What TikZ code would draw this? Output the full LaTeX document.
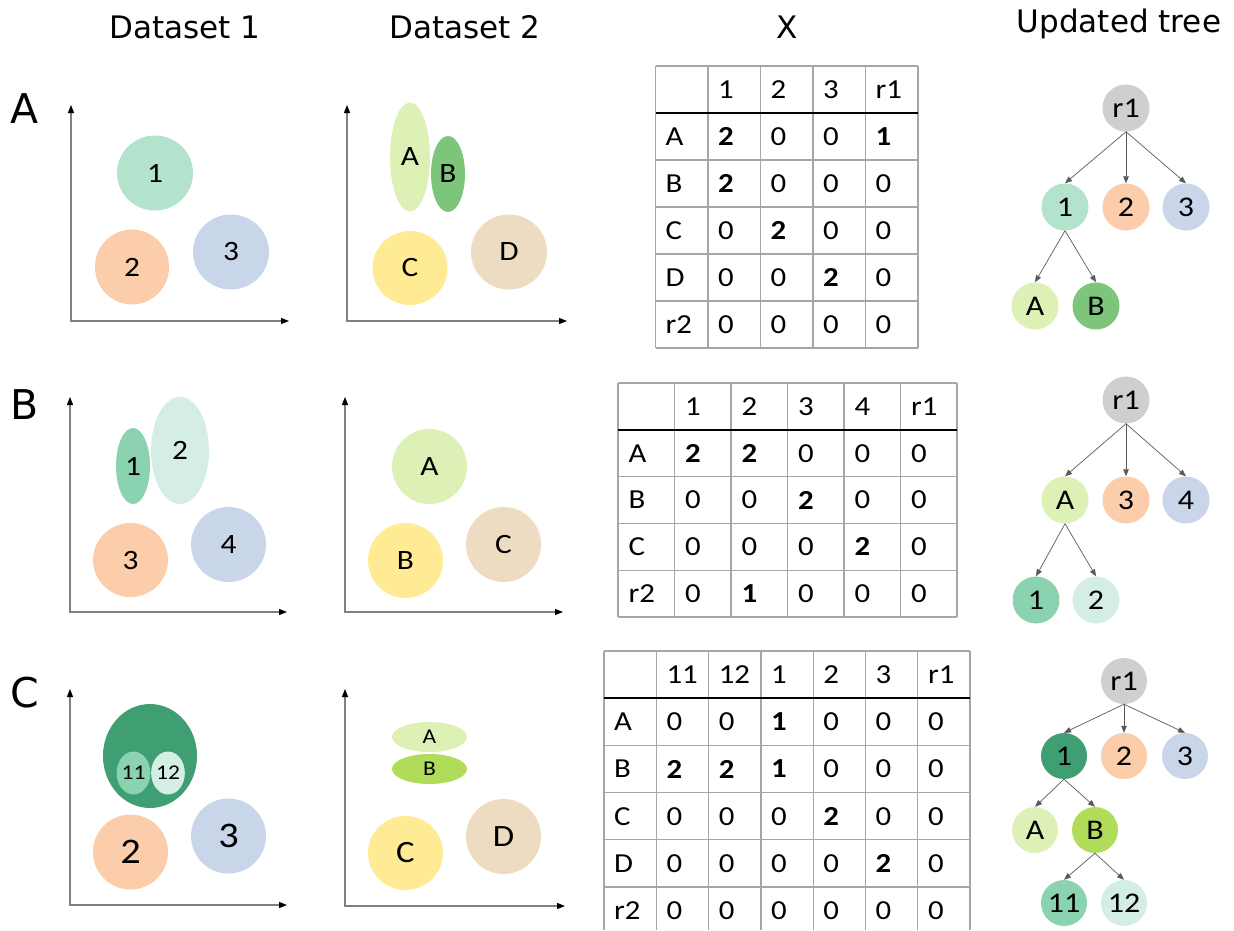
\documentclass[tikz,border=0pt]{standalone}
\usepackage{fontspec}
\setmainfont{Carlito}[FakeStretch=1.12]
\newfontfamily\headfont{DejaVu Sans}
\usetikzlibrary{arrows.meta,shapes.geometric}

\definecolor{mint}{HTML}{B3E3CC}
\definecolor{peach}{HTML}{FBCDAA}
\definecolor{steel}{HTML}{C9D5E8}
\definecolor{lime}{HTML}{DDF0B5}
\definecolor{leafgreen}{HTML}{7DC57A}
\definecolor{butter}{HTML}{FFEB94}
\definecolor{sand}{HTML}{EDDCC2}
\definecolor{stone}{HTML}{D0CECE}
\definecolor{sea}{HTML}{8AD2B0}
\definecolor{foam}{HTML}{D5EEE3}
\definecolor{forest}{HTML}{3F9E72}
\definecolor{grass}{HTML}{B0DC5A}
\definecolor{gridgray}{HTML}{A6A6A6}
\definecolor{axisgray}{HTML}{808080}
\definecolor{arrowgray}{HTML}{595959}

\begin{document}
\begin{tikzpicture}[x=1pt,y=-1pt]
% styles
\tikzset{blob/.style={ellipse,inner sep=0pt,font=\fontsize{28}{30}\selectfont},
         smallblob/.style={blob,font=\fontsize{21}{23}\selectfont},
         treenode/.style={circle,inner sep=0pt,minimum size=47pt,font=\fontsize{28.5}{30}\selectfont},
         axes/.style={draw=axisgray,line width=1.2pt,
           {Triangle[length=8pt,width=6pt,color=black]}-{Triangle[length=8pt,width=6pt,color=black]}},
         treearrow/.style={draw=arrowgray,line width=0.7pt,-{Triangle[length=7pt,width=5.5pt]}},
         cell/.style={anchor=west,inner sep=0pt,font=\fontsize{27.5}{29}\selectfont},
         tabline/.style={draw=gridgray,line width=1.3pt},
         tabrule/.style={draw=black,line width=2pt},
         head/.style={anchor=base,font=\headfont\fontsize{31}{33}\selectfont},
         panel/.style={anchor=base,font=\headfont\fontsize{41}{43}\selectfont}}
\useasboundingbox (0,0) rectangle (1234,930);

%headers
\node[head] (h1) at (185,38) {Dataset 1};
\node[head] (h2) at (465,38) {Dataset 2};
\node[head] (hx) at (787,38) {X};
\node[head] (ht) at (1119,32) {Updated tree};
\node[panel] (pA) at (25,123) {A};
\node[panel] (pB) at (25,419) {B};
\node[panel] (pC) at (25,707) {C};

%axes
\draw[axes] (71,105) -- (71,321) -- (289,321);
\draw[axes] (347,105) -- (347,321) -- (567,321);
\draw[axes] (70,397) -- (70,612) -- (287,612);
\draw[axes] (345,397) -- (345,612) -- (563,612);
\draw[axes] (70,689) -- (70,905) -- (287,905);
\draw[axes] (345,689) -- (345,906) -- (565,906);

%row A, dataset 1
\node[blob,fill=mint,minimum width=76pt,minimum height=75pt] (pa1) at (155,173) {1};
\node[blob,fill=peach,minimum width=74pt,minimum height=75pt] (pa2) at (132,267) {2};
\node[blob,fill=steel,minimum width=76pt,minimum height=75pt] (pa3) at (231,252) {3};
%row A, dataset 2
\node[blob,fill=lime,minimum width=40pt,minimum height=109pt] (qaA) at (410,157) {A};
\node[blob,fill=leafgreen,minimum width=34pt,minimum height=76pt] (qaB) at (448,174) {B};
\node[blob,fill=butter,minimum width=75pt,minimum height=74pt] (qaC) at (410,268) {C};
\node[blob,fill=sand,minimum width=76pt,minimum height=75pt] (qaD) at (509,252) {D};

%row B, dataset 1
\node[blob,fill=sea,minimum width=34pt,minimum height=76pt] (pb1) at (133,466) {1};
\node[blob,fill=foam,minimum width=58pt,minimum height=107pt] (pb2) at (180,450.5) {2};
\node[blob,fill=peach,minimum width=75pt,minimum height=74pt] (pb3) at (130.5,560) {3};
\node[blob,fill=steel,minimum width=75pt,minimum height=75pt] (pb4) at (228.5,544.5) {4};
%row B, dataset 2
\node[blob,fill=lime,minimum width=75pt,minimum height=75pt] (qbA) at (429.5,466.5) {A};
\node[blob,fill=butter,minimum width=75pt,minimum height=75pt] (qbB) at (405.5,560.5) {B};
\node[blob,fill=sand,minimum width=75pt,minimum height=75pt] (qbC) at (503.5,544.5) {C};

%row C, dataset 1
\node[blob,fill=forest,minimum width=94pt,minimum height=104pt] (pc1) at (150,756) {};
\node[smallblob,fill=sea,minimum width=33pt,minimum height=43pt] (pc11) at (133.5,773) {11};
\node[smallblob,fill=foam,minimum width=32pt,minimum height=43pt] (pc12) at (168,773) {12};
\node[blob,fill=peach,minimum width=75pt,minimum height=75pt,font=\fontsize{36}{38}\selectfont] (pc2) at (130.5,852) {2};
\node[blob,fill=steel,minimum width=75pt,minimum height=75pt,font=\fontsize{36}{38}\selectfont] (pc3) at (228.5,836) {3};
%row C, dataset 2
\node[smallblob,fill=lime,minimum width=75pt,minimum height=30pt] (qcA) at (429.5,737) {A};
\node[smallblob,fill=grass,minimum width=75pt,minimum height=30pt] (qcB) at (429.5,769) {B};
\node[blob,fill=butter,minimum width=75pt,minimum height=74pt,font=\fontsize{31}{33}\selectfont] (qcC) at (405.5,853) {C};
\node[blob,fill=sand,minimum width=75pt,minimum height=75pt,font=\fontsize{31}{33}\selectfont] (qcD) at (503.5,836.5) {D};

%table A
\foreach \i in {0,...,5} \draw[tabline] (655.5+\i*52.5,66) -- (655.5+\i*52.5,348);
\foreach \j in {0,...,6} \draw[tabline] (655.5,66+\j*47) -- (918,66+\j*47);
\draw[tabrule] (655.5,113) -- (918,113);
\foreach \row [count=\j from 0] in {{{},1,2,3,r1},
    {A,\textbf{2},0,0,\textbf{1}},
    {B,\textbf{2},0,0,0},
    {C,0,\textbf{2},0,0},
    {D,0,0,\textbf{2},0},
    {r2,0,0,0,0}}
  \foreach \v [count=\i from 0] in \row
    \node[cell] (xa-\j-\i) at (665.5+\i*52.5,89.5+\j*47) {\v};

%table B
\foreach \i in {0,...,6} \draw[tabline] (618+\i*56.5,383) -- (618+\i*56.5,617);
\foreach \j in {0,...,5} \draw[tabline] (618,383+\j*46.8) -- (957,383+\j*46.8);
\draw[tabrule] (618,429.8) -- (957,429.8);
\foreach \row [count=\j from 0] in {{{},1,2,3,4,r1},
    {A,\textbf{2},\textbf{2},0,0,0},
    {B,0,0,\textbf{2},0,0},
    {C,0,0,0,\textbf{2},0},
    {r2,0,\textbf{1},0,0,0}}
  \foreach \v [count=\i from 0] in \row
    \node[cell] (xb-\j-\i) at (628.5+\i*56.5,406.4+\j*46.8) {\v};

%table C
\foreach \i in {0,...,7} \draw[tabline] (604+\i*52.3,651) -- (604+\i*52.3,930);
\foreach \j in {0,...,5} \draw[tabline] (604,651+\j*47.2) -- (970.1,651+\j*47.2);
\draw[tabrule] (604,698.2) -- (970.1,698.2);
\foreach \row [count=\j from 0] in {{{},11,12,1,2,3,r1},
    {A,0,0,\textbf{1},0,0,0},
    {B,\textbf{2},\textbf{2},\textbf{1},0,0,0},
    {C,0,0,0,\textbf{2},0,0},
    {D,0,0,0,0,\textbf{2},0},
    {r2,0,0,0,0,0,0}}
  \foreach \v [count=\i from 0] in \row
    \node[cell] (xc-\j-\i) at (614+\i*52.3,674.6+\j*47.2) {\v};

%tree A
\node[treenode,fill=stone] (ta-r1) at (1126,108) {r1};
\node[treenode,fill=mint] (ta-1) at (1065,207) {1};
\node[treenode,fill=peach] (ta-2) at (1126,207) {2};
\node[treenode,fill=steel] (ta-3) at (1186,207) {3};
\node[treenode,fill=lime] (ta-A) at (1035,306) {A};
\node[treenode,fill=leafgreen] (ta-B) at (1096,306) {B};
\foreach \c in {1,2,3} \draw[treearrow] (ta-r1.south) -- (ta-\c.north);
\foreach \c in {A,B} \draw[treearrow] (ta-1.south) -- (ta-\c.north);

%tree B
\node[treenode,fill=stone] (tb-r1) at (1126,400) {r1};
\node[treenode,fill=lime] (tb-A) at (1065,500) {A};
\node[treenode,fill=peach] (tb-3) at (1126,500) {3};
\node[treenode,fill=steel] (tb-4) at (1186,500) {4};
\node[treenode,fill=sea] (tb-1) at (1036,600) {1};
\node[treenode,fill=foam] (tb-2) at (1096,600) {2};
\foreach \c in {A,3,4} \draw[treearrow] (tb-r1.south) -- (tb-\c.north);
\foreach \c in {1,2} \draw[treearrow] (tb-A.south) -- (tb-\c.north);

%tree C
\node[treenode,minimum size=46pt,fill=stone] (tc-r1) at (1124,681) {r1};
\node[treenode,minimum size=46pt,fill=forest] (tc-1) at (1064,756) {1};
\node[treenode,minimum size=46pt,fill=peach] (tc-2) at (1124,756) {2};
\node[treenode,minimum size=46pt,fill=steel] (tc-3) at (1185,756) {3};
\node[treenode,minimum size=46pt,fill=lime] (tc-A) at (1035,830) {A};
\node[treenode,minimum size=46pt,fill=grass] (tc-B) at (1095,830) {B};
\node[treenode,minimum size=46pt,fill=sea] (tc-11) at (1064,903) {11};
\node[treenode,minimum size=46pt,fill=foam] (tc-12) at (1124,903) {12};
\foreach \c in {1,2,3} \draw[treearrow] (tc-r1.south) -- (tc-\c.north);
\foreach \c in {A,B} \draw[treearrow] (tc-1.south) -- (tc-\c.north);
\foreach \c in {11,12} \draw[treearrow] (tc-B.south) -- (tc-\c.north);
\end{tikzpicture}
\end{document}
